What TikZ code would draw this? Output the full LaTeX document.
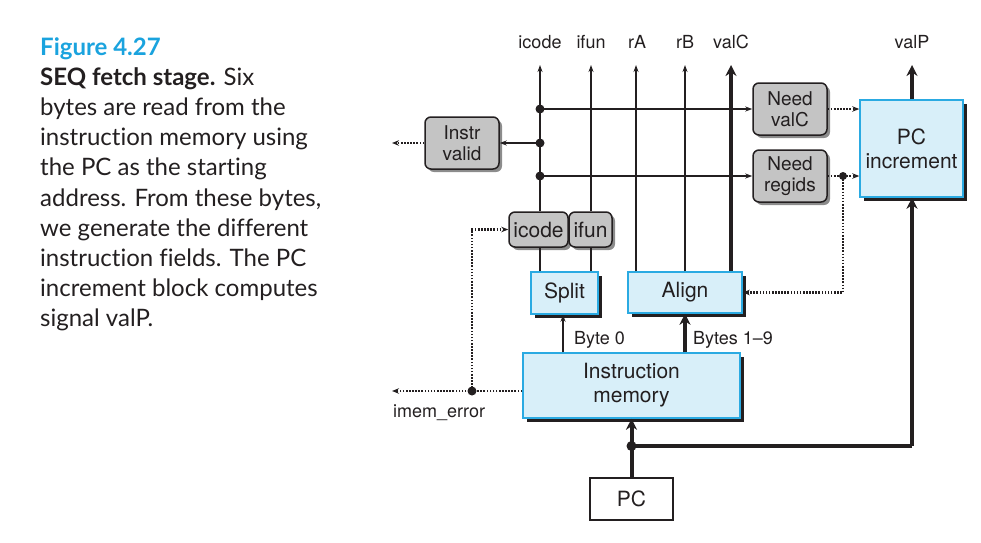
\documentclass[tikz,border=0pt]{standalone}
\usepackage{fontspec}
\setmainfont{TeX Gyre Heros}
\newfontfamily\capfont[Ligatures={NoCommon,NoRare}]{Lato}
\usetikzlibrary{arrows.meta,shadows}
\definecolor{boxblue}{HTML}{D8EFF9}
\definecolor{edgeblue}{HTML}{2AAAE2}
\definecolor{boxgray}{HTML}{C4C4C4}
\definecolor{shadegray}{HTML}{8C8C8C}
\definecolor{figcyan}{HTML}{1AA3DE}
\definecolor{ink}{HTML}{231F20}
\tikzset{
  bluebox/.style={draw=edgeblue, fill=boxblue, line width=1.5pt, inner sep=0pt, align=center,
    font=\fontsize{21}{24}\selectfont, text=ink,
    drop shadow={shadow xshift=3.5pt, shadow yshift=-3.5pt, fill=ink, opacity=1}},
  graybox/.style={draw=ink, fill=boxgray, line width=1.5pt, rounded corners=6pt, inner sep=0pt, align=center,
    font=\fontsize{19}{20.5}\selectfont, text=ink,
    drop shadow={shadow xshift=3pt, shadow yshift=-3pt, fill=shadegray, opacity=1}},
  fieldbox/.style={graybox, font=\fontsize{21}{24}\selectfont},
  sig/.style={font=\fontsize{18}{20}\selectfont, text=ink, inner sep=0pt},
  capt/.style={font=\capfont\fontsize{24}{30}\selectfont, text=ink, inner sep=0pt, anchor=base west},
  wire/.style={draw=ink, line width=1.3pt},
  thin/.style={wire, -{Stealth[length=7pt,width=5pt]}},
  thick/.style={draw=ink, line width=4pt, -{Stealth[length=11pt,width=11pt]}},
  thickw/.style={draw=ink, line width=4pt},
  dots/.style={draw=ink, line width=2.2pt, dash pattern=on 1.6pt off 1.5pt},
  dotarrow/.style={dots, -{Stealth[length=7pt,width=5.5pt]}},
  junc/.style={circle, fill=ink, inner sep=0pt, minimum size=9pt},
}
\begin{document}
\begin{tikzpicture}[x=1pt,y=-1pt]
\useasboundingbox (0,0) rectangle (981,542);

% caption
\node[capt, text=figcyan] (c1) at (40,55) {\bfseries Figure 4.27};
\node[capt] (c2) at (40,85.2) {\textbf{SEQ fetch stage.} Six};
\node[capt] (c3) at (40,115.4) {bytes are read from the};
\node[capt] (c4) at (40,145.6) {instruction memory using};
\node[capt] (c5) at (40,175.8) {the PC as the starting};
\node[capt] (c6) at (40,206) {address. From these bytes,};
\node[capt] (c7) at (40,236.2) {we generate the different};
\node[capt] (c8) at (40,266.4) {instruction fields. The PC};
\node[capt] (c9) at (40,296.6) {increment block computes};
\node[capt] (c10) at (40,326.8) {signal valP.};

% boxes
\node[graybox, minimum width=74pt, minimum height=52pt] (valid) at (462,143) {Instr\\valid};
\node[fieldbox, minimum width=59pt, minimum height=35pt] (icodeb) at (538.5,229.5) {icode};
\node[fieldbox, minimum width=43pt, minimum height=35pt] (ifunb) at (590.5,229.5) {ifun};
\node[bluebox, minimum width=67pt, minimum height=42pt] (split) at (564.5,293) {Split};
\node[bluebox, minimum width=114pt, minimum height=41pt] (align) at (685,292.5) {Align};
\node[bluebox, minimum width=217pt, minimum height=65pt] (imem) at (631.5,385.5) {Instruction\\memory};
\node[graybox, minimum width=74pt, minimum height=52pt] (needc) at (790,109) {Need\\valC};
\node[graybox, minimum width=74pt, minimum height=52pt] (needr) at (790,176) {Need\\regids};
\node[bluebox, minimum width=103pt, minimum height=97pt] (pcinc) at (911.5,148.5) {PC\\increment};
\node[draw=ink, line width=2.8pt, fill=white, minimum width=83pt, minimum height=42pt,
      inner sep=0pt, font=\fontsize{21}{24}\selectfont, text=ink] (pc) at (631.5,499) {PC};

% top labels
\node[sig, anchor=base] (licode) at (540,48) {icode};
\node[sig, anchor=base] (lifun) at (591,48) {ifun};
\node[sig, anchor=base] (lra) at (637,48) {rA};
\node[sig, anchor=base] (lrb) at (685,48) {rB};
\node[sig, anchor=base] (lvalc) at (731,48) {valC};
\node[sig, anchor=base] (lvalp) at (912,48) {valP};

\coordinate (ticode) at (540,65);
\coordinate (tifun) at (591,65);
\coordinate (tra) at (636,65);
\coordinate (trb) at (685,65);
\coordinate (tvalc) at (731,65);
\coordinate (tvalp) at (912,65);

% vertical field wires
\draw[thin] (icodeb.north -| ticode) -- (ticode);
\draw[thin] (ifunb.north -| tifun) -- (tifun);
\draw[wire] (split.north -| ticode) -- (icodeb.south -| ticode);
\draw[wire] (split.north -| tifun) -- (ifunb.south -| tifun);
\draw[thin] (align.north -| tra) -- (tra);
\draw[thin] (align.north -| trb) -- (trb);
\draw[thick] (align.north -| tvalc) -- (tvalc);

% icode taps
\coordinate (j1) at (540,109);
\coordinate (j2) at (540,143);
\coordinate (j3) at (540,176);
\draw[thin] (j1) -- (needc.west);
\draw[thin] (j2) -- (valid.east);
\draw[thin] (j3) -- (needr.west);
\node[junc] (dj1) at (j1) {};
\node[junc] (dj2) at (j2) {};
\node[junc] (dj3) at (j3) {};

\coordinate (vout) at (392,143);
\draw[dotarrow] (valid.west) -- (vout);

% need -> pc increment
\draw[dotarrow] (needc.east) -- (needc.east -| pcinc.west);
\coordinate (jr) at (843,176);
\draw[dotarrow] (needr.east) -- (needr.east -| pcinc.west);
\draw[dotarrow] (jr) |- (align.east);
\node[junc, minimum size=8pt] (djr) at (jr) {};

% memory -> split / align
\coordinate (bx0) at (563,0);
\draw[thin] (imem.north -| bx0) -- (split.south -| bx0);
\draw[thick] (imem.north -| align.south) -- (align.south);
\node[sig, anchor=base west] (lb0) at (574,344) {Byte 0};
\node[sig, anchor=base west] (lb19) at (693,344) {Bytes 1–9};

% imem error
\coordinate (err) at (472,391);
\coordinate (eout) at (392,391);
\draw[dotarrow] (imem.west |- err) -- (eout);
\draw[dotarrow] (err) |- (icodeb.west);
\node[junc] (derr) at (err) {};
\node[sig, anchor=base west] (lerr) at (393,417) {imem\_error};

% PC paths
\coordinate (jp) at (631.5,446);
\coordinate (cp) at (912,446);
\draw[thick] (pc.north) -- (imem.south);
\draw[thickw] (jp) -- (cp);
\draw[thick] (cp) -- (pcinc.south -| cp);
\node[junc, minimum size=10pt] (djp) at (jp) {};
\draw[thick] (pcinc.north -| tvalp) -- (tvalp);
\end{tikzpicture}
\end{document}
